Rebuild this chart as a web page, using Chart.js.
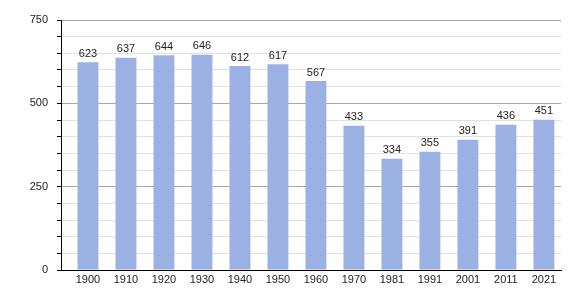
<!DOCTYPE html>
<html>
<head>
<meta charset="utf-8">
<script src="https://cdn.jsdelivr.net/npm/chart.js@4/dist/chart.umd.min.js"></script>
<style>
  html, body { margin: 0; padding: 0; background: #fff; }
  #wrap { width: 580px; height: 300px; }
</style>
</head>
<body>
<div id="wrap"><canvas id="chart"></canvas></div>
<script>
const years  = ['1900','1910','1920','1930','1940','1950','1960','1970','1981','1991','2001','2011','2021'];
const people = [623, 637, 644, 646, 612, 617, 567, 433, 334, 355, 391, 436, 451];
const yTicks = [0, 250, 500, 750];

const FONT = '"Liberation Sans", Arial, sans-serif';

// labels above bars
const valueLabels = {
  id: 'valueLabels',
  afterDatasetsDraw(chart) {
    const ctx  = chart.ctx;
    const meta = chart.getDatasetMeta(0);
    ctx.save();
    ctx.font = '11px ' + FONT;
    ctx.fillStyle = '#222';
    ctx.textAlign = 'center';
    ctx.textBaseline = 'bottom';
    meta.data.forEach((bar, i) => {
      ctx.fillText(String(people[i]), bar.x, bar.y - 3);
    });
    ctx.restore();
  }
};

// bars sit at the right side of their slot, so x is a linear index scale
new Chart(document.getElementById('chart'), {
  type: 'bar',
  data: {
    datasets: [{
      data: people.map((v, i) => ({ x: i, y: v })),
      backgroundColor: '#9bb1e4',
      borderWidth: 0,
      barPercentage: 0.55,
      categoryPercentage: 1
    }]
  },
  options: {
    responsive: true, maintainAspectRatio: false, animation: false,
    layout: { padding: { top: 20, right: 19, left: 0, bottom: 0 } },
    plugins: { legend: { display: false }, tooltip: { enabled: false } },
    scales: {
      x: {
        type: 'linear',
        min: -0.71, max: 12.45,
        offset: false,
        afterFit: s => { s.height = 30; },
        grid: { display: false, drawTicks: false, offset: false },
        border: { color: '#000', width: 1 },
        ticks: {
          stepSize: 1, autoSkip: false, maxRotation: 0, padding: 3,
          includeBounds: false,
          color: '#222', font: { size: 11, family: FONT },
          callback: v => years[v] ?? ''
        }
      },
      y: {
        min: 0, max: 750,
        afterFit: s => { s.width = 61; },
        border: { color: '#000', width: 1 },
        grid: {
          color: c => yTicks.includes(c.tick.value) ? '#a8a8a8' : '#e2e2e2',
          tickColor: '#000',
          tickLength: 4
        },
        ticks: {
          stepSize: 50,
          autoSkip: false,
          color: '#222',
          padding: 9,
          font: { size: 11, family: FONT },
          callback: v => yTicks.includes(v) ? v : ''
        }
      }
    }
  },
  plugins: [valueLabels]
});
</script>
</body>
</html>
